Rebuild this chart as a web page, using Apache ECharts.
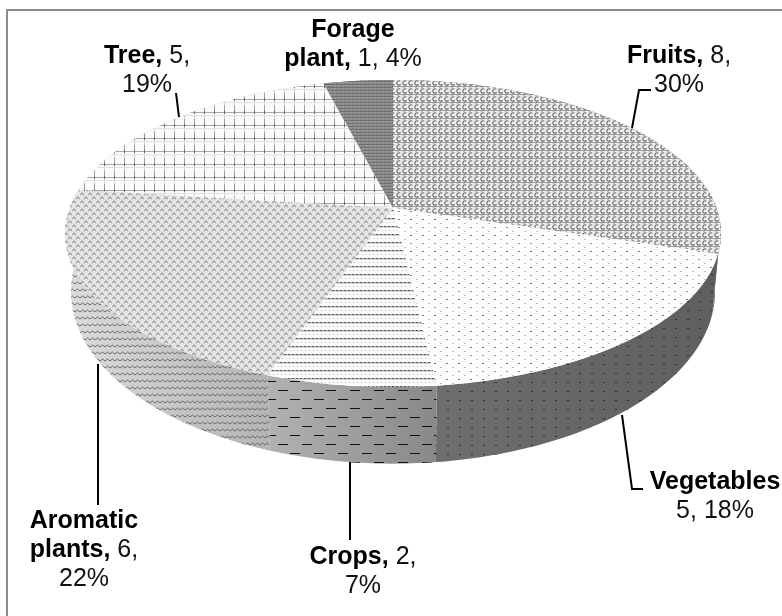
<!DOCTYPE html>
<html>
<head>
<meta charset="utf-8">
<title>Plant categories</title>
<script src="https://cdn.jsdelivr.net/npm/echarts@6/dist/echarts.min.js"></script>
<style>
  html, body { margin: 0; padding: 0; background: #fff; }
  #chart { width: 782px; height: 616px; }
</style>
</head>
<body>
<div id="chart"></div>
<script>
// values, clockwise from 12 o'clock
const categories = ['Fruits', 'Vegetables', 'Crops', 'Aromatic plants', 'Tree', 'Forage plant'];
const counts = [8, 5, 2, 6, 5, 1];
const percents = [30, 18, 7, 22, 19, 4];
// slice sizes measured on the disc, the labels above are rounded
const sliceSizes = [29.7, 18.5, 7.1, 21.7, 19, 4];

// how each data label breaks over its lines
const labelLines = [
  ['{b|Fruits,}{n| ' + counts[0] + ',}', '{n|' + percents[0] + '%}'],
  ['{b|Vegetables}', '{n|' + counts[1] + ', ' + percents[1] + '%}'],
  ['{b|Crops,}{n| ' + counts[2] + ',}', '{n|' + percents[2] + '%}'],
  ['{b|Aromatic}', '{b|plants,}{n| ' + counts[3] + ',}', '{n|' + percents[3] + '%}'],
  ['{b|Tree,}{n| ' + counts[4] + ',}', '{n|' + percents[4] + '%}'],
  ['{b|Forage}', '{b|plant,}{n| ' + counts[5] + ', ' + percents[5] + '%}']
];
const labelCenters = [[679, 42], [715, 468], [363, 543], [84, 507], [147, 42], [353, 16]];
const leaders = [
  [[651, 90], [639, 90], [632, 128]],
  [[643, 489], [632, 489], [622, 415]],
  [[350, 540], [350, 462]],
  [[98, 505], [98, 364]],
  [[176, 93], [179, 117]]
];

// perspective of the disc: centre of the slices on the top face and on the base
const CX = 393, PERSP = 0.166;
const topRim = { rx: 323.5, ky: 149.3, y0: 208 };
const baseRim = { rx: 317.5, ky: 167, y0: 263.4 };

function rimPoint(rim, pct) {
  const a = pct / 100 * Math.PI * 2;
  const u = Math.sin(a), v = -Math.cos(a);
  const d = 1 - PERSP * v;
  return [CX + rim.rx * u / d, rim.y0 + rim.ky * v / d];
}

function rimArc(rim, from, to) {
  const pts = [];
  const n = Math.max(2, Math.ceil((to - from) * 4));
  for (let i = 0; i <= n; i++) {
    pts.push(rimPoint(rim, from + (to - from) * i / n));
  }
  return pts;
}

function tile(w, h, bg, draw) {
  const c = document.createElement('canvas');
  c.width = w;
  c.height = h;
  const ctx = c.getContext('2d');
  if (bg) {
    ctx.fillStyle = bg;
    ctx.fillRect(0, 0, w, h);
  }
  draw(ctx);
  return { image: c, repeat: 'repeat' };
}

function dot(ctx, x, y, w, h, col) {
  ctx.fillStyle = col;
  ctx.fillRect(x, y, w, h);
}

const topPatterns = [
  // fruits: rows of little curls
  tile(6, 8, '#eeeeee', ctx => {
    ctx.strokeStyle = '#6f6f6f';
    ctx.lineWidth = 1.2;
    ctx.beginPath();
    ctx.arc(3, 3, 2.2, 0.6, Math.PI * 1.7);
    ctx.stroke();
    dot(ctx, 0, 6, 6, 1, '#9c9c9c');
    dot(ctx, 1, 7, 2, 1, '#bcbcbc');
  }),
  // vegetables: sparse staggered dots
  tile(12, 16, '#fdfdfd', ctx => {
    dot(ctx, 2, 3, 2, 1, '#8a8a8a');
    dot(ctx, 8, 7, 2, 1, '#c4c4c4');
    dot(ctx, 2, 11, 2, 1, '#777');
    dot(ctx, 8, 15, 2, 1, '#bdbdbd');
  }),
  // crops: dotted horizontal rules
  tile(4, 8, '#fcfcfc', ctx => {
    dot(ctx, 0, 2, 2, 1, '#555');
    dot(ctx, 2, 2, 2, 1, '#b4b4b4');
    dot(ctx, 0, 3, 4, 1, '#d2d2d2');
    dot(ctx, 1, 6, 2, 1, '#d6d6d6');
  }),
  // aromatic: light zigzag weave
  tile(8, 8, '#e3e3e3', ctx => {
    ctx.strokeStyle = '#9c9c9c';
    ctx.lineWidth = 1.1;
    ctx.beginPath();
    ctx.moveTo(0, 3); ctx.lineTo(2, 1); ctx.lineTo(4, 3);
    ctx.moveTo(4, 7); ctx.lineTo(6, 5); ctx.lineTo(8, 7);
    ctx.stroke();
    dot(ctx, 6, 1, 1, 1, '#fafafa');
    dot(ctx, 2, 5, 1, 1, '#fafafa');
  }),
  // tree: open plaid grid
  tile(10, 13, '#fbfbfb', ctx => {
    dot(ctx, 4, 0, 1, 13, '#cfcfcf');
    dot(ctx, 4, 2, 1, 5, '#9a9a9a');
    dot(ctx, 0, 8, 10, 1, '#a6a6a6');
    dot(ctx, 4, 7, 1, 3, '#6a6a6a');
    dot(ctx, 0, 11, 10, 1, '#e2e2e2');
  }),
  // forage: dense dark stripes
  tile(4, 3, '#959595', ctx => {
    dot(ctx, 0, 0, 4, 1, '#707070');
    dot(ctx, 0, 2, 2, 1, '#808080');
  })
];

const sidePatterns = [
  tile(12, 9, null, ctx => { dot(ctx, 3, 4, 2, 1, '#2e2e2e'); }),
  tile(12, 9, null, ctx => { dot(ctx, 3, 4, 2, 1, '#2e2e2e'); }),
  // crops: short black dashes
  tile(24, 18, null, ctx => {
    dot(ctx, 2, 3, 10, 1, '#111');
    dot(ctx, 14, 12, 10, 1, '#111');
  }),
  // aromatic: wavy dark squiggles
  tile(10, 7, null, ctx => {
    ctx.strokeStyle = '#6a6a6a';
    ctx.lineWidth = 1;
    ctx.beginPath();
    ctx.moveTo(0, 4); ctx.lineTo(2.5, 2); ctx.lineTo(5, 4); ctx.lineTo(7.5, 2); ctx.lineTo(10, 4);
    ctx.stroke();
  }),
  tile(10, 7, null, ctx => {}),
  tile(10, 7, null, ctx => {})
];

const sideShades = [
  ['#6a6a6a', '#6a6a6a'],
  ['#6e6e6e', '#5f5f5f'],
  ['#b2b2b2', '#888888'],
  ['#dcdcdc', '#b4b4b4'],
  ['#cccccc', '#cccccc'],
  ['#888888', '#888888']
];

// cumulative start and end of each slice, in percent
const sliceRows = [];
sliceSizes.reduce(function (sum, p) {
  sliceRows.push([sum, sum + p]);
  return sum + p;
}, 0);

function renderSide(params, api) {
  const i = params.dataIndex;
  const from = api.value(0), to = api.value(1);
  const points = rimArc(topRim, from, to).concat(rimArc(baseRim, from, to).reverse());
  const shade = {
    type: 'linear', x: 0, y: 0, x2: 1, y2: 0,
    colorStops: [
      { offset: 0, color: sideShades[i][0] },
      { offset: 1, color: sideShades[i][1] }
    ]
  };
  return {
    type: 'group',
    children: [
      { type: 'polygon', shape: { points: points }, style: { fill: shade } },
      { type: 'polygon', shape: { points: points }, style: { fill: sidePatterns[i] } }
    ]
  };
}

function renderTop(params, api) {
  const from = api.value(0), to = api.value(1);
  const points = [[CX, topRim.y0]].concat(rimArc(topRim, from, to));
  return {
    type: 'polygon',
    shape: { points: points },
    style: { fill: topPatterns[params.dataIndex] }
  };
}

const graphics = [
  { type: 'line', silent: true, shape: { x1: 6, y1: 10, x2: 782, y2: 10 }, style: { stroke: '#8c8c8c', lineWidth: 2 } },
  { type: 'line', silent: true, shape: { x1: 7, y1: 10, x2: 7, y2: 616 }, style: { stroke: '#8c8c8c', lineWidth: 2 } }
];
leaders.forEach(function (pts) {
  graphics.push({
    type: 'polyline', silent: true, z: 5,
    shape: { points: pts },
    style: { stroke: '#000', lineWidth: 2, fill: null }
  });
});
labelLines.forEach(function (lines, i) {
  graphics.push({
    type: 'text', silent: true, z: 6,
    x: labelCenters[i][0],
    y: labelCenters[i][1],
    style: {
      text: lines.join('\n'),
      align: 'center',
      verticalAlign: 'top',
      rich: {
        b: { font: 'bold 25px "Liberation Sans", Arial, sans-serif', fill: '#000', lineHeight: 29 },
        n: { font: '25px "Liberation Sans", Arial, sans-serif', fill: '#111', lineHeight: 29 }
      }
    }
  });
});

const chart = echarts.init(document.getElementById('chart'), null, { renderer: 'canvas' });
chart.setOption({
  animation: false,
  backgroundColor: '#fff',
  graphic: graphics,
  series: [
    {
      type: 'custom', name: 'side', coordinateSystem: 'none', silent: true, z: 1,
      data: sliceRows, renderItem: renderSide
    },
    {
      type: 'custom', name: 'top', coordinateSystem: 'none', silent: true, z: 2,
      data: sliceRows, renderItem: renderTop
    }
  ]
});
</script>
</body>
</html>
